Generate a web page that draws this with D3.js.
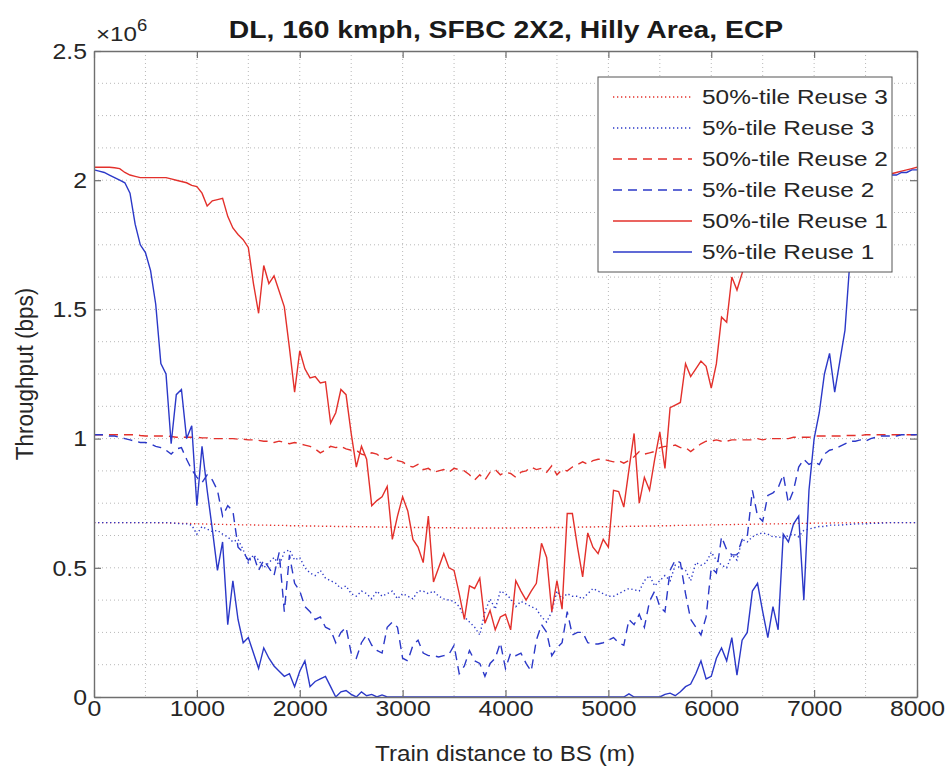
<!DOCTYPE html>
<html><head><meta charset="utf-8">
<script src="https://cdn.jsdelivr.net/npm/d3@7"></script>
<style>body{margin:0;background:#fff}svg{display:block;font-family:"Liberation Sans",Arial,sans-serif}</style>
</head><body><svg id="c" width="949" height="778"></svg>
<script>
// distance to BS (m)
const distance = [
0,50,100,150,200,250,300,350,400,450,500,550,600,650,700,750,800,850,900,950,
1000,1050,1100,1150,1200,1250,1300,1350,1400,1450,1500,1550,1600,1650,1700,1750,1800,1850,1900,1950,
2000,2050,2100,2150,2200,2250,2300,2350,2400,2450,2500,2550,2600,2650,2700,2750,2800,2850,2900,2950,
3000,3050,3100,3150,3200,3250,3300,3350,3400,3450,3500,3550,3600,3650,3700,3750,3800,3850,3900,3950,
4000,4050,4100,4150,4200,4250,4300,4350,4400,4450,4500,4550,4600,4650,4700,4750,4800,4850,4900,4950,
5000,5050,5100,5150,5200,5250,5300,5350,5400,5450,5500,5550,5600,5650,5700,5750,5800,5850,5900,5950,
6000,6050,6100,6150,6200,6250,6300,6350,6400,6450,6500,6550,6600,6650,6700,6750,6800,6850,6900,6950,
7000,7050,7100,7150,7200,7250,7300,7350,7400,7450,7500,7550,7600,7650,7700,7750,7800,7850,7900,7950,8000];

// throughput values in units of 1e6 bps
const p50Reuse3 = [
0.675,0.675,0.675,0.675,0.675,0.675,0.675,0.675,0.675,0.675,
0.675,0.675,0.675,0.674,0.674,0.673,0.673,0.672,0.672,0.671,
0.67,0.67,0.669,0.669,0.668,0.668,0.667,0.667,0.667,0.666,
0.666,0.666,0.665,0.665,0.665,0.664,0.664,0.664,0.663,0.663,
0.663,0.662,0.662,0.662,0.661,0.661,0.661,0.66,0.66,0.66,
0.66,0.659,0.659,0.659,0.658,0.658,0.658,0.658,0.657,0.657,
0.657,0.657,0.656,0.656,0.656,0.656,0.655,0.655,0.655,0.655,
0.655,0.654,0.654,0.654,0.654,0.654,0.654,0.654,0.654,0.654,
0.654,0.654,0.654,0.655,0.655,0.655,0.655,0.655,0.656,0.656,
0.656,0.656,0.657,0.657,0.657,0.658,0.658,0.658,0.659,0.659,
0.659,0.66,0.66,0.66,0.661,0.661,0.661,0.662,0.662,0.662,
0.663,0.663,0.663,0.664,0.664,0.664,0.665,0.665,0.665,0.666,
0.666,0.666,0.667,0.667,0.667,0.668,0.668,0.668,0.669,0.669,
0.669,0.67,0.67,0.67,0.671,0.671,0.671,0.672,0.672,0.672,
0.673,0.673,0.673,0.673,0.674,0.674,0.674,0.674,0.674,0.675,
0.675,0.675,0.675,0.675,0.675,0.675,0.675,0.675,0.675,0.675,0.675];

const p5Reuse3 = [
0.675,0.675,0.675,0.675,0.675,0.675,0.675,0.675,0.675,0.675,
0.675,0.675,0.675,0.675,0.675,0.674,0.672,0.67,0.67,0.665,
0.63,0.66,0.65,0.64,0.645,0.63,0.62,0.60,0.61,0.57,
0.52,0.55,0.53,0.50,0.52,0.54,0.51,0.56,0.57,0.53,
0.54,0.50,0.48,0.47,0.49,0.46,0.45,0.44,0.42,0.43,
0.40,0.39,0.41,0.40,0.38,0.41,0.39,0.40,0.41,0.38,
0.40,0.39,0.38,0.41,0.41,0.40,0.41,0.39,0.38,0.375,
0.37,0.35,0.31,0.29,0.27,0.24,0.33,0.38,0.34,0.41,
0.40,0.38,0.35,0.37,0.36,0.35,0.34,0.31,0.29,0.33,
0.41,0.38,0.40,0.39,0.39,0.38,0.40,0.42,0.41,0.40,
0.39,0.39,0.40,0.41,0.42,0.415,0.41,0.45,0.47,0.43,
0.45,0.47,0.45,0.51,0.50,0.49,0.45,0.52,0.51,0.52,
0.56,0.53,0.51,0.50,0.55,0.53,0.61,0.60,0.62,0.63,
0.635,0.63,0.62,0.62,0.615,0.625,0.63,0.62,0.645,0.65,
0.655,0.66,0.66,0.665,0.665,0.665,0.667,0.668,0.67,0.67,
0.67,0.672,0.672,0.673,0.674,0.675,0.675,0.675,0.675,0.675,0.675];

const p50Reuse2 = [
1.015,1.015,1.015,1.015,1.015,1.015,1.015,1.015,1.015,1.012,
1.01,1.01,1.01,1.01,1.01,1.008,1.005,1.005,1.005,1.005,
1.005,1.003,1.003,1.0,1.0,1.0,1.0,1.0,0.998,0.998,
0.995,0.995,0.993,0.99,0.99,0.985,0.99,0.985,0.98,0.985,
0.98,0.975,0.97,0.96,0.945,0.955,0.97,0.965,0.97,0.96,
0.955,0.955,0.94,0.935,0.945,0.94,0.925,0.92,0.93,0.915,
0.91,0.895,0.89,0.9,0.88,0.885,0.87,0.875,0.88,0.87,
0.885,0.88,0.875,0.86,0.84,0.86,0.84,0.87,0.88,0.86,
0.87,0.865,0.85,0.87,0.875,0.89,0.88,0.885,0.87,0.895,
0.86,0.88,0.875,0.89,0.9,0.91,0.9,0.915,0.92,0.92,
0.915,0.91,0.915,0.905,0.915,0.93,0.95,0.94,0.945,0.95,
0.965,0.97,0.97,0.975,0.965,0.965,0.95,0.965,0.98,0.99,
0.99,0.995,0.99,0.99,0.995,0.995,0.995,0.995,0.995,1.0,
0.995,1.0,1.0,1.0,1.0,1.0,1.005,1.005,1.005,1.005,
1.01,1.01,1.01,1.01,1.01,1.01,1.012,1.012,1.012,1.012,
1.015,1.015,1.015,1.015,1.015,1.015,1.015,1.015,1.015,1.015,1.015];

const p5Reuse2 = [
1.015,1.015,1.015,1.01,1.01,1.005,1.0,0.995,0.99,0.985,
0.985,0.98,0.97,0.965,0.955,0.94,0.96,0.965,0.92,0.88,
0.85,0.83,0.86,0.84,0.80,0.70,0.74,0.72,0.58,0.56,
0.53,0.55,0.49,0.53,0.50,0.47,0.56,0.33,0.55,0.44,
0.41,0.35,0.33,0.30,0.31,0.27,0.26,0.21,0.25,0.27,
0.17,0.15,0.21,0.24,0.20,0.18,0.17,0.27,0.29,0.27,
0.15,0.14,0.20,0.22,0.17,0.16,0.16,0.155,0.16,0.165,
0.20,0.09,0.12,0.18,0.14,0.13,0.08,0.13,0.15,0.21,
0.11,0.17,0.16,0.17,0.13,0.10,0.22,0.28,0.25,0.16,
0.19,0.21,0.33,0.24,0.25,0.25,0.21,0.205,0.205,0.21,
0.22,0.23,0.21,0.20,0.30,0.28,0.32,0.27,0.37,0.41,
0.35,0.33,0.49,0.53,0.52,0.40,0.30,0.27,0.24,0.31,
0.50,0.48,0.62,0.57,0.55,0.55,0.61,0.62,0.80,0.70,
0.68,0.78,0.79,0.81,0.86,0.75,0.80,0.89,0.92,0.90,
0.91,0.90,0.94,0.955,0.96,0.97,0.98,0.99,0.99,0.995,
0.99,1.0,1.005,1.01,1.01,1.01,1.01,1.015,1.015,1.015,1.015];

const p50Reuse1 = [
2.05,2.05,2.05,2.05,2.048,2.045,2.03,2.02,2.015,2.01,
2.01,2.01,2.01,2.01,2.01,2.005,2.0,1.995,1.99,1.98,
1.975,1.95,1.90,1.92,1.925,1.93,1.86,1.815,1.79,1.77,
1.74,1.60,1.485,1.67,1.60,1.63,1.57,1.51,1.35,1.18,
1.34,1.27,1.235,1.24,1.215,1.22,1.06,1.10,1.19,1.17,
1.02,0.89,0.97,0.92,0.74,0.76,0.775,0.815,0.61,0.70,
0.775,0.72,0.61,0.58,0.52,0.70,0.445,0.50,0.555,0.50,
0.49,0.40,0.30,0.43,0.42,0.46,0.285,0.335,0.26,0.31,
0.32,0.26,0.45,0.41,0.375,0.41,0.44,0.595,0.54,0.33,
0.45,0.34,0.71,0.71,0.58,0.465,0.635,0.58,0.555,0.61,
0.58,0.80,0.795,0.735,0.88,1.02,0.75,0.85,0.80,0.92,
1.025,0.885,1.12,1.13,1.14,1.29,1.24,1.27,1.30,1.28,
1.195,1.29,1.47,1.45,1.625,1.575,1.64,1.72,1.78,1.80,
1.84,1.87,1.89,1.91,1.92,1.93,1.94,1.95,1.96,1.965,
1.97,1.975,1.98,1.985,1.99,1.99,1.995,2.0,2.0,2.005,
2.01,2.01,2.015,2.02,2.02,2.025,2.03,2.035,2.04,2.045,2.05];

const p5Reuse1 = [
2.04,2.035,2.03,2.02,2.01,2.0,1.99,1.95,1.83,1.75,
1.72,1.65,1.52,1.29,1.25,0.98,1.17,1.19,1.0,1.05,
0.74,0.97,0.80,0.65,0.49,0.60,0.28,0.45,0.30,0.21,
0.23,0.17,0.11,0.19,0.15,0.12,0.10,0.08,0.09,0.04,
0.10,0.14,0.04,0.06,0.07,0.08,0.04,0.0,0.02,0.025,
0.01,0.0,0.02,0.005,0.01,0.0,0.008,0.0,0.0,0.0,
0,0,0,0,0,0,0,0,0,0,
0,0,0,0,0,0,0,0,0,0,
0,0,0,0,0,0,0,0,0,0,
0,0,0,0,0,0,0,0,0,0,
0,0,0,0,0.012,0,0,0,0,0,
0.0,0.01,0.015,0.005,0.02,0.04,0.05,0.09,0.14,0.07,
0.08,0.15,0.19,0.14,0.23,0.085,0.22,0.25,0.41,0.44,
0.33,0.23,0.35,0.26,0.63,0.60,0.67,0.70,0.375,0.80,
1.0,1.10,1.25,1.33,1.18,1.30,1.42,1.70,1.88,1.96,
1.99,2.0,2.0,2.01,2.01,2.02,2.02,2.03,2.03,2.04,2.04];

const seriesNames = ["50%-tile Reuse 3","5%-tile Reuse 3","50%-tile Reuse 2","5%-tile Reuse 2","50%-tile Reuse 1","5%-tile Reuse 1"];
const seriesValues = [p50Reuse3, p5Reuse3, p50Reuse2, p5Reuse2, p50Reuse1, p5Reuse1];
const xTicks = [0,1000,2000,3000,4000,5000,6000,7000,8000];
const yTicks = [0,0.5,1,1.5,2,2.5];
const yTickLabels = ["0","0.5","1","1.5","2","2.5"];
const xMinor = [500,1500,2500,3500,4500,5500,6500,7500];
const yMinor = [0.125,0.25,0.375,0.625,0.75,0.875,1.125,1.25,1.375,1.625,1.75,1.875,2.125,2.25,2.375];

const RED = "#e3302b", BLUE = "#2b38c8";
const styles = [
  {color:RED, dash:"1.3,2.7"},
  {color:BLUE, dash:"1.3,2.7"},
  {color:RED, dash:"9,6"},
  {color:BLUE, dash:"9,6"},
  {color:RED, dash:null},
  {color:BLUE, dash:null}
];

const svg = d3.select("#c");
const L=94, R=917, T=51, B=697;
const x = d3.scaleLinear().domain([0,8000]).range([L,R]);
const y = d3.scaleLinear().domain([0,2.5]).range([B,T]);
const txt = "#262626";
function stretch(sel, k){ sel.each(function(){ const w=this.getComputedTextLength(); if(w>0){ this.setAttribute("textLength", (w*k).toFixed(1)); this.setAttribute("lengthAdjust","spacingAndGlyphs"); } }); }

// grid
const grid = svg.append("g").attr("stroke","#b8b8b8").attr("stroke-width",1).attr("stroke-dasharray","1,3");
xTicks.concat(xMinor).forEach(v=>{ if(v>0&&v<8000) grid.append("line").attr("x1",x(v)).attr("x2",x(v)).attr("y1",T).attr("y2",B); });
yTicks.concat(yMinor).forEach(v=>{ if(v>0&&v<2.5) grid.append("line").attr("y1",y(v)).attr("y2",y(v)).attr("x1",L).attr("x2",R); });

// lines
svg.append("defs").append("clipPath").attr("id","clip").append("rect").attr("x",L).attr("y",T).attr("width",R-L).attr("height",B-T);
const line = d3.line().x((d,i)=>x(distance[i])).y(d=>y(d));
const lg = svg.append("g").attr("clip-path","url(#clip)");
seriesValues.forEach((vals,k)=>{
  lg.append("path").attr("d",line(vals)).attr("fill","none")
    .attr("stroke",styles[k].color).attr("stroke-width",1.4)
    .attr("stroke-dasharray",styles[k].dash);
});

// axes
const axCol = "#6f6f6f";
function styleAxis(g){ g.select(".domain").attr("stroke",axCol).attr("stroke-width",1.4);
  g.selectAll(".tick line").attr("stroke",axCol).attr("stroke-width",1.2);
  g.selectAll("text").attr("fill",txt).attr("font-size",22.5).attr("font-family","Liberation Sans, Arial, sans-serif").call(stretch, 1.1); }
svg.append("g").attr("transform",`translate(0,${B})`).call(d3.axisBottom(x).tickValues(xTicks).tickSize(-7).tickSizeOuter(0).tickPadding(3).tickFormat(d3.format("d"))).call(styleAxis);
svg.append("g").attr("transform",`translate(0,${T})`).call(d3.axisTop(x).tickValues(xTicks).tickSize(-7).tickSizeOuter(0).tickFormat("")).call(styleAxis);
svg.append("g").attr("transform",`translate(${L},0)`).call(d3.axisLeft(y).tickValues(yTicks).tickSize(-7).tickSizeOuter(0).tickPadding(7).tickFormat((d,i)=>yTickLabels[i])).call(styleAxis);
svg.append("g").attr("transform",`translate(${R},0)`).call(d3.axisRight(y).tickValues(yTicks).tickSize(-7).tickSizeOuter(0).tickFormat("")).call(styleAxis);

// exponent
const ex = svg.append("text").attr("x",96).attr("y",41).attr("fill",txt).attr("font-size",21);
ex.append("tspan").text("\u00d710");
ex.append("tspan").attr("dy",-10).attr("font-size",16).text("6");
ex.call(stretch, 1.15);

// title & labels
svg.append("text").attr("x",506).attr("y",38).attr("text-anchor","middle").attr("font-weight","bold").attr("font-size",24).attr("fill","#1a1a1a").text("DL, 160 kmph, SFBC 2X2, Hilly Area, ECP").call(stretch, 1.18);
svg.append("text").attr("x",505).attr("y",761).attr("text-anchor","middle").attr("font-size",22).attr("fill",txt).text("Train distance to BS (m)").call(stretch, 1.1);
svg.append("text").attr("transform",`translate(33,374) scale(1.1,1) rotate(-90)`).attr("text-anchor","middle").attr("font-size",22.5).attr("fill",txt).text("Throughput (bps)");

// legend
const leg = svg.append("g");
leg.append("rect").attr("x",598).attr("y",77).attr("width",294).attr("height",195).attr("fill","#fff").attr("stroke","#555").attr("stroke-width",1);
seriesNames.forEach((n,k)=>{
  const yy = 97 + k*31;
  leg.append("line").attr("x1",613).attr("x2",692).attr("y1",yy).attr("y2",yy)
    .attr("stroke",styles[k].color).attr("stroke-width",1.4).attr("stroke-dasharray",styles[k].dash);
  leg.append("text").attr("x",702).attr("y",yy).attr("dy","0.36em").attr("font-size",20).attr("fill",txt).text(n).call(stretch, 1.22);
});
</script></body></html>
